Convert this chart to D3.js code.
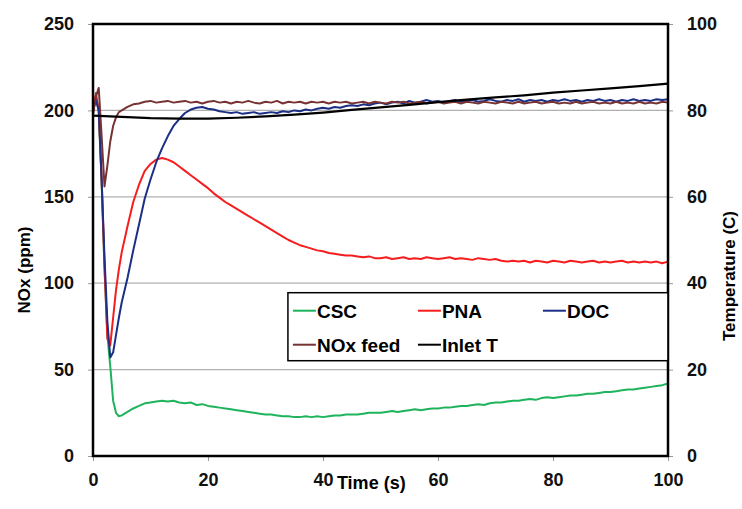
<!DOCTYPE html>
<html>
<head>
<meta charset="utf-8">
<script src="https://cdn.jsdelivr.net/npm/d3@7"></script>
<style>
  body { margin: 0; background: #fff; }
  text { font-family: "Liberation Sans", Arial, sans-serif; font-weight: bold; }
</style>
</head>
<body>
<div id="chart"></div>
<script>
// time base (s) shared by the NOx traces
var time = [0, 0.5, 1, 1.5, 2, 2.5, 3, 3.5, 4, 4.5, 5].concat(d3.range(6, 101));

var csc = [198, 209, 199, 158, 108, 70, 52, 32, 25, 23, 23.5,
  25.5, 27.5, 29, 30.5, 31, 31.5, 32, 31.5, 32, 31, 30.5, 31, 29.5, 30, 29,
  28.5, 28, 27.5, 27, 26.5, 26, 25.5, 25, 24.5, 24, 24, 23.5, 23, 23, 22.5,
  22.5, 23, 22.5, 23, 22.5, 23, 23.5, 23.5, 24, 24, 24, 24.5, 25, 25, 25,
  25.5, 26, 25.5, 26, 26.5, 27, 26.5, 27, 27.5, 27.5, 28, 28, 28.5, 29, 29,
  29.5, 30, 29.5, 30.5, 31, 31, 31.5, 32, 32, 32.5, 33, 32.5, 33.5, 34, 33.5,
  34, 34.5, 35, 35, 35.5, 36, 36, 36.5, 37, 37, 37.5, 38, 38.5, 38.5, 39,
  39.5, 40, 40.5, 41, 42];

var pna = [198, 210, 200, 160, 110, 68, 64, 80, 96, 108, 118,
  133, 147, 157, 165, 169, 171.5, 172.5, 171.5, 170, 167.5, 165, 162.5, 160, 157.5, 155,
  152, 149.5, 147, 145, 143, 141, 139, 137, 135, 133, 131, 129, 127, 125, 123.5,
  122, 121, 120, 119, 118.5, 117.5, 117, 116.5, 116, 116, 115.5, 115, 115.5, 114.5, 114.5,
  115, 114, 114.5, 115, 114, 114.5, 114, 115, 114.5, 114, 114.5, 115, 114, 114.5, 114,
  113.5, 114.5, 114, 113.5, 114, 113, 112.5, 113, 112.5, 113, 112, 113, 112.5, 112, 113,
  112.5, 112, 113, 112.5, 112, 112.5, 113, 112, 112.5, 112, 112.5, 113, 112, 112.5, 112,
  112.5, 112, 112.5, 111.5, 112.5];

var doc = [200, 206, 200, 160, 115, 78, 57, 60, 70, 80, 89,
  103, 119, 134, 149, 160, 170, 178, 185, 191, 195, 198.5, 200.5, 201.5, 202, 201,
  200.5, 199.5, 199, 198.5, 199, 198, 198.5, 199, 198, 198.5, 199, 198.5, 199.5, 199, 200,
  199.5, 200.5, 200, 201, 201.5, 201, 202, 201.5, 202.5, 203, 202.5, 203.5, 203, 204, 204.5,
  203.5, 204.5, 205, 204, 205.5, 204.5, 205, 206, 205, 205.5, 204.5, 205.5, 206, 205, 205.5,
  206, 205, 205.5, 206.5, 205.5, 205, 206, 205.5, 206.5, 205, 206, 205.5, 206, 205, 206,
  205.5, 206.5, 205.5, 206, 205, 206, 205.5, 206.5, 205.5, 206, 205, 206, 205.5, 206.5, 205.5,
  206, 205.5, 206.5, 206, 206.5];

var noxFeed = [198, 208, 213, 185, 156, 168, 182, 191, 196, 199, 200,
  202, 203.5, 204, 205, 205.5, 204.5, 205, 205.5, 204.5, 205, 205.5, 204.5, 205, 204, 205,
  205.5, 204.5, 205, 204, 205, 204.5, 205.5, 204.5, 204, 205, 204.5, 205.5, 204, 205, 204.5,
  205, 204, 205, 204.5, 205, 204, 205, 204.5, 205, 204, 204.5, 205, 204, 205, 204.5,
  204, 205, 204.5, 205, 204, 204.5, 205, 204, 204.5, 205, 204, 204.5, 205, 204, 205,
  204.5, 204, 205, 204.5, 204, 205, 204.5, 204, 205, 204, 204.5, 205, 204, 204.5, 205,
  204, 204.5, 204, 205, 204, 204.5, 205, 204, 204.5, 204, 205, 204, 204.5, 204, 205,
  204, 204.5, 204, 205, 204.5];

// inlet temperature (C), right axis
var tempTime = [0, 5, 10, 15, 20, 25, 30, 35, 40, 45, 50, 55, 60, 65, 70, 75, 80, 85, 90, 95, 100];
var inletT = [78.8, 78.5, 78.2, 78.1, 78.1, 78.3, 78.6, 79.0, 79.5, 80.1, 80.7, 81.3, 81.9, 82.5, 83.0, 83.5, 84.1, 84.6, 85.1, 85.6, 86.2];

var xTicks = [0, 20, 40, 60, 80, 100];
var yTicks = [0, 50, 100, 150, 200, 250];
var tTicks = [0, 20, 40, 60, 80, 100];

var series = [
  {name: "CSC", values: csc, color: "#1fb35c"},
  {name: "PNA", values: pna, color: "#f51d1d"},
  {name: "DOC", values: doc, color: "#1c2f86"},
  {name: "NOx feed", values: noxFeed, color: "#773333"}
];

var margin = {top: 24, right: 74, bottom: 53, left: 93},
    width = 742 - margin.left - margin.right,
    height = 509 - margin.top - margin.bottom;

var svg = d3.select("#chart")
  .append("svg")
    .attr("width", 742)
    .attr("height", 509)
  .append("g")
    .attr("transform", "translate(" + margin.left + "," + margin.top + ")");

var x = d3.scaleLinear().domain([0, 100]).range([0, width]);
var y = d3.scaleLinear().domain([0, 250]).range([height, 0]);
var yT = d3.scaleLinear().domain([0, 100]).range([height, 0]);

// gridlines
svg.selectAll(".grid")
  .data([50, 100, 150, 200])
  .enter()
  .append("line")
    .attr("x1", 0).attr("x2", width)
    .attr("y1", function(d) { return y(d); })
    .attr("y2", function(d) { return y(d); })
    .attr("stroke", "#b0b0b0")
    .attr("stroke-width", 1.2);

// axes
var xAxis = svg.append("g")
  .attr("transform", "translate(0," + height + ")")
  .call(d3.axisBottom(x).tickValues(xTicks).tickSize(5).tickPadding(12));
var yAxis = svg.append("g")
  .call(d3.axisLeft(y).tickValues(yTicks).tickSize(5).tickPadding(14));
var tAxis = svg.append("g")
  .attr("transform", "translate(" + width + ",0)")
  .call(d3.axisRight(yT).tickValues(tTicks).tickSize(5).tickPadding(14));

[xAxis, yAxis, tAxis].forEach(function(a) {
  a.select(".domain").remove();
  a.selectAll("line").attr("stroke", "#999");
  a.selectAll("text").style("font-size", "18px").attr("fill", "#111");
});

// lines
var line = d3.line()
  .x(function(d, i) { return x(time[i]); })
  .y(function(d) { return y(d); });

series.forEach(function(s) {
  svg.append("path")
    .datum(s.values)
    .attr("fill", "none")
    .attr("stroke", s.color)
    .attr("stroke-width", 2)
    .attr("stroke-linejoin", "round")
    .attr("d", line);
});

var tLine = d3.line()
  .x(function(d, i) { return x(tempTime[i]); })
  .y(function(d) { return yT(d); });

svg.append("path")
  .datum(inletT)
  .attr("fill", "none")
  .attr("stroke", "#000")
  .attr("stroke-width", 2.2)
  .attr("d", tLine);

// plot frame
svg.append("rect")
  .attr("width", width).attr("height", height)
  .attr("fill", "none")
  .attr("stroke", "#000")
  .attr("stroke-width", 2.5);

// axis titles
svg.append("text")
  .attr("transform", "translate(-63," + (height / 2 + 30) + ")rotate(-90)")
  .attr("text-anchor", "middle")
  .style("font-size", "17px")
  .text("NOx (ppm)");

svg.append("text")
  .attr("transform", "translate(" + (width + 67) + "," + (height / 2 + 36) + ")rotate(-90)")
  .attr("text-anchor", "middle")
  .style("font-size", "17px")
  .text("Temperature (C)");

svg.append("text")
  .attr("x", x(48.4))
  .attr("y", height + 33)
  .attr("text-anchor", "middle")
  .style("font-size", "18px")
  .text("Time (s)");

// legend
var legend = svg.append("g").attr("transform", "translate(" + x(33.9) + "," + y(94.5) + ")");
legend.append("rect")
  .attr("width", 380).attr("height", 68)
  .attr("fill", "#fff")
  .attr("stroke", "#000")
  .attr("stroke-width", 1.5);

var legendItems = series.concat([{name: "Inlet T", color: "#000"}]);
legendItems.forEach(function(s, i) {
  var col = i < 3 ? i : i - 3,
      row = i < 3 ? 0 : 1,
      lx = 5 + col * 125,
      ly = 18 + row * 34;
  legend.append("line")
    .attr("x1", lx).attr("x2", lx + 23)
    .attr("y1", ly).attr("y2", ly)
    .attr("stroke", s.color)
    .attr("stroke-width", 2);
  legend.append("text")
    .attr("x", lx + 24)
    .attr("y", ly + 7)
    .style("font-size", "19px")
    .text(s.name);
});
</script>
</body>
</html>
